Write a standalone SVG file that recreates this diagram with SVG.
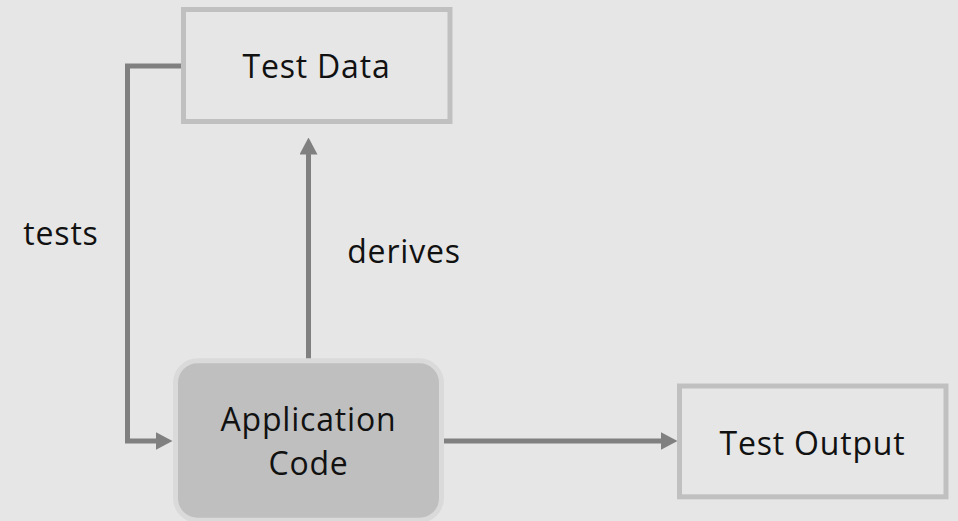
<svg xmlns="http://www.w3.org/2000/svg" width="958" height="521" viewBox="0 0 958 521">
<style>
.box{fill:none;stroke:#c0c0c0;stroke-width:5}
.app{fill:#bfbfbf;stroke:#dadada;stroke-width:5}
.lbl{font-family:"Open Sans","Liberation Sans",sans-serif;font-size:32px;letter-spacing:0.8px;fill:#111;text-anchor:middle}
.conn{fill:none;stroke:#808080;stroke-width:5}
</style>
<defs>
<marker id="ah" markerUnits="userSpaceOnUse" viewBox="0 0 17 18" markerWidth="17" markerHeight="18" refX="0.5" refY="9" orient="auto">
<path d="M0,0 L17,9 L0,18 z" fill="#808080"/>
</marker>
</defs>
<rect width="958" height="521" fill="#e6e6e6"/>
<g id="connectors">
<path class="conn" d="M183 66 H127.5 V441 H156" marker-end="url(#ah)"/>
<path class="conn" d="M308.5 360 V154" marker-end="url(#ah)"/>
<path class="conn" d="M442 441 H661" marker-end="url(#ah)"/>
</g>
<g id="test-data">
<rect class="box" x="183.5" y="9.5" width="266.5" height="112"/>
<text class="lbl" x="316.5" y="78">Test Data</text>
</g>
<g id="application-code">
<rect class="app" x="175.5" y="360.8" width="266" height="159.5" rx="22"/>
<text class="lbl" x="308.5" y="430.5">Application</text>
<text class="lbl" x="308.5" y="475">Code</text>
</g>
<g id="test-output">
<rect class="box" x="679.5" y="386" width="266.5" height="110.8"/>
<text class="lbl" x="812.5" y="455">Test Output</text>
</g>
<text class="lbl" x="61" y="245">tests</text>
<text class="lbl" x="404" y="262.5">derives</text>
</svg>
